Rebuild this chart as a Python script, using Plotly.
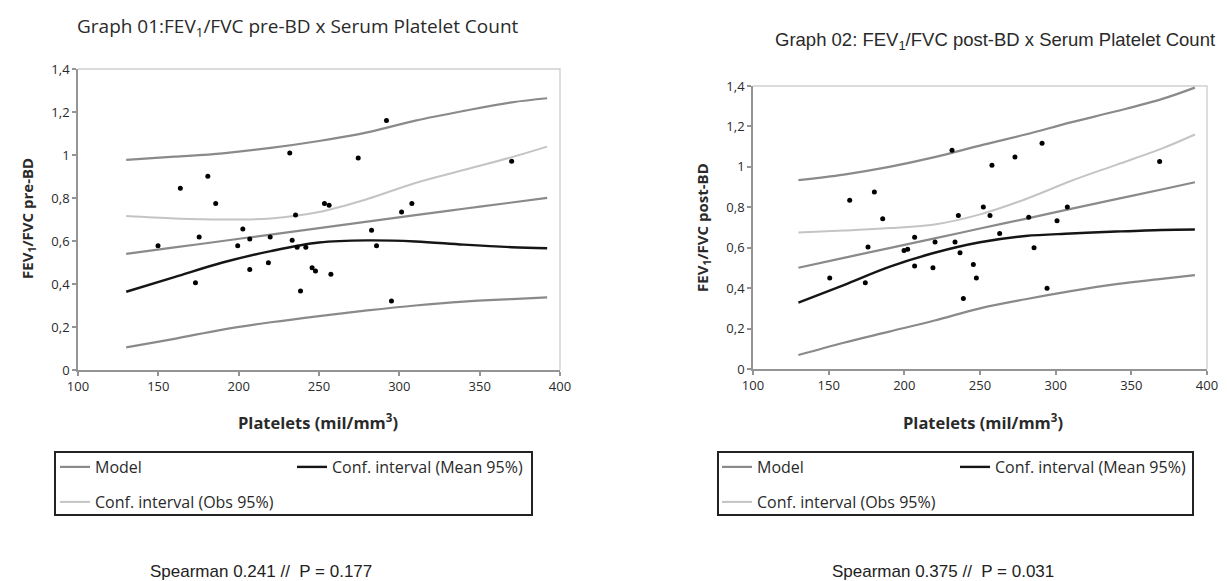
import plotly.graph_objects as go

# The page body keeps an 8px margin, so the figure is sized to fit the window.
PAGE_W, PAGE_H, OFF = 1227, 581, 8
W, H = PAGE_W - OFF, PAGE_H - OFF

# ---------------- data ----------------
# Graph 01 (pre-BD)
pre_x = [149.8, 163.7, 173.1, 175.4, 180.8, 185.7, 199.4, 202.6, 206.9, 206.9, 218.5,
         219.6, 231.8, 233.3, 235.4, 236.4, 238.5, 241.8, 245.7, 247.8, 253.4, 256.3,
         257.4, 274.4, 282.7, 285.8, 292.0, 295.1, 301.4, 307.8, 369.9]
pre_y = [0.578, 0.845, 0.406, 0.619, 0.901, 0.774, 0.578, 0.656, 0.609, 0.468, 0.499,
         0.619, 1.009, 0.603, 0.721, 0.571, 0.367, 0.571, 0.476, 0.460, 0.775, 0.766,
         0.445, 0.986, 0.650, 0.578, 1.160, 0.321, 0.735, 0.774, 0.971]

curve_x = [130, 160, 190, 220, 250, 280, 310, 340, 370, 392]
pre_model = [0.540, 0.570, 0.600, 0.630, 0.660, 0.690, 0.720, 0.750, 0.779, 0.801]
pre_obs_upper = [0.977, 0.992, 1.008, 1.033, 1.065, 1.105, 1.160, 1.205, 1.245, 1.264]
pre_obs_lower = [0.105, 0.145, 0.188, 0.222, 0.251, 0.277, 0.300, 0.318, 0.330, 0.338]
pre_mean_upper = [0.716, 0.705, 0.700, 0.705, 0.735, 0.795, 0.870, 0.930, 0.990, 1.039]
pre_mean_lower = [0.364, 0.432, 0.500, 0.553, 0.593, 0.603, 0.598, 0.583, 0.571, 0.566]

# Graph 02 (post-BD)
post_x = [150.7, 163.9, 174.2, 176.0, 180.2, 185.7, 199.8, 202.2, 206.8, 206.8, 218.9,
          220.3, 231.5, 233.5, 235.7, 236.8, 239.0, 245.6, 247.6, 252.2, 256.6, 257.9,
          263.0, 273.1, 282.2, 285.7, 291.0, 294.3, 300.9, 307.7, 368.7]
post_y = [0.450, 0.835, 0.427, 0.603, 0.876, 0.743, 0.586, 0.593, 0.652, 0.509, 0.501,
          0.628, 1.082, 0.628, 0.759, 0.575, 0.349, 0.517, 0.450, 0.802, 0.759, 1.008,
          0.670, 1.049, 0.751, 0.600, 1.117, 0.400, 0.733, 0.802, 1.026]

post_model = [0.501, 0.550, 0.598, 0.646, 0.695, 0.743, 0.792, 0.840, 0.888, 0.924]
post_obs_upper = [0.934, 0.962, 1.000, 1.048, 1.105, 1.160, 1.220, 1.275, 1.335, 1.392]
post_obs_lower = [0.069, 0.130, 0.185, 0.240, 0.300, 0.345, 0.385, 0.420, 0.446, 0.464]
post_mean_upper = [0.675, 0.685, 0.697, 0.715, 0.765, 0.840, 0.930, 1.010, 1.090, 1.160]
post_mean_lower = [0.328, 0.415, 0.505, 0.575, 0.627, 0.658, 0.670, 0.680, 0.688, 0.690]

x_ticks = [100, 150, 200, 250, 300, 350, 400]
y_ticks = [0, 0.2, 0.4, 0.6, 0.8, 1.0, 1.2, 1.4]
y_tick_text = ["0", "0,2", "0,4", "0,6", "0,8", "1", "1,2", "1,4"]

legend_names = ["Model", "Conf. interval (Mean 95%)", "Conf. interval (Obs 95%)"]
titles = ["Graph 01:FEV<sub>1</sub>/FVC pre-BD x Serum Platelet Count",
          "Graph 02: FEV<sub>1</sub>/FVC post-BD x Serum Platelet Count"]
y_titles = ["<b>FEV<sub>1</sub>/FVC pre-BD</b>", "<b>FEV<sub>1</sub>/FVC post-BD</b>"]
x_title = "<b>Platelets (mil/mm<sup>3</sup>)</b>"
spearman = ["Spearman 0.241 //  P = 0.177", "Spearman 0.375 //  P = 0.031"]

# ---------------- styles ----------------
C_MODEL = "#8a8a8a"
C_OBS = "#8a8a8a"
C_LIGHT = "#c4c4c4"
C_DARK = "#151515"
TXT = "#2a2a2a"
FONT = "Open Sans"


def px(x):
    return (x - OFF) / W


def py(y):
    return 1 - (y - OFF) / H


fig = go.Figure()

panels = [
    dict(xs=pre_x, ys=pre_y, model=pre_model, ou=pre_obs_upper, ol=pre_obs_lower,
         mu=pre_mean_upper, ml=pre_mean_lower, xa="x", ya="y",
         legs=["legend", "legend2", "legend3"]),
    dict(xs=post_x, ys=post_y, model=post_model, ou=post_obs_upper, ol=post_obs_lower,
         mu=post_mean_upper, ml=post_mean_lower, xa="x2", ya="y2",
         legs=["legend4", "legend5", "legend6"]),
]

for p in panels:
    common = dict(xaxis=p["xa"], yaxis=p["ya"], mode="lines", line_shape="spline")
    fig.add_trace(go.Scatter(x=curve_x, y=p["ou"], line=dict(color=C_OBS, width=2.2),
                             showlegend=False, hoverinfo="skip", **common))
    fig.add_trace(go.Scatter(x=curve_x, y=p["ol"], line=dict(color=C_OBS, width=2.2),
                             showlegend=False, hoverinfo="skip", **common))
    fig.add_trace(go.Scatter(x=curve_x, y=p["model"], line=dict(color=C_MODEL, width=2.2),
                             name=legend_names[0], legend=p["legs"][0], **common))
    fig.add_trace(go.Scatter(x=curve_x, y=p["ml"], line=dict(color=C_DARK, width=2.4),
                             name=legend_names[1], legend=p["legs"][1], **common))
    fig.add_trace(go.Scatter(x=curve_x, y=p["mu"], line=dict(color=C_LIGHT, width=2),
                             name=legend_names[2], legend=p["legs"][2], **common))
    fig.add_trace(go.Scatter(x=p["xs"], y=p["ys"], xaxis=p["xa"], yaxis=p["ya"],
                             mode="markers", marker=dict(color="black", size=5),
                             showlegend=False))

axis_common = dict(showgrid=False, zeroline=False, showline=True, linecolor="#949494",
                   linewidth=1.6, mirror=False, ticks="outside", ticklen=4,
                   tickcolor="#949494", tickwidth=1.5,
                   tickfont=dict(family=FONT, size=13, color=TXT))

fig.update_layout(
    width=W, height=H,
    margin=dict(l=0, r=0, t=0, b=0, autoexpand=False),
    paper_bgcolor="white", plot_bgcolor="white",
    xaxis=dict(domain=[px(78), px(560)], range=[100, 400], tickvals=x_ticks,
               anchor="y", **axis_common),
    yaxis=dict(domain=[py(370), py(69)], range=[0, 1.4], tickvals=y_ticks,
               ticktext=y_tick_text, anchor="x", **axis_common),
    xaxis2=dict(domain=[px(753), px(1207)], range=[100, 400], tickvals=x_ticks,
                anchor="y2", **axis_common),
    yaxis2=dict(domain=[py(369), py(86)], range=[0, 1.4], tickvals=y_ticks,
                ticktext=y_tick_text, anchor="x2", **axis_common),
    showlegend=True,
)

# light frame on the top and right of each plot area
for xr, yr in [("x", "y"), ("x2", "y2")]:
    fig.add_shape(type="path", xref=f"{xr} domain", yref=f"{yr} domain",
                  path="M 0 1 L 1 1 L 1 0", line=dict(color="#cfcfcf", width=1.4),
                  layer="below")

leg_font = dict(family=FONT, size=16, color=TXT)
leg_pos = {
    "legend": (55, 467), "legend2": (292, 467), "legend3": (55, 502),
    "legend4": (717, 467), "legend5": (955, 467), "legend6": (717, 502),
}
for name, (lx, ly) in leg_pos.items():
    fig.update_layout({name: dict(x=px(lx), y=py(ly), xanchor="left", yanchor="middle",
                                  bgcolor="rgba(0,0,0,0)", borderwidth=0, font=leg_font,
                                  itemwidth=30)})

# legend frames
for (x0, x1) in [(55, 532), (718, 1193)]:
    fig.add_shape(type="rect", xref="paper", yref="paper", x0=px(x0), x1=px(x1),
                  y0=py(515), y1=py(452), line=dict(color="#222222", width=2))

ann = []
# titles
ann.append(dict(text=titles[0], x=px(298), y=py(27), font=dict(family=FONT, size=19, color=TXT)))
ann.append(dict(text=titles[1], x=px(995), y=py(41), font=dict(family="Liberation Sans", size=18.5, color=TXT)))
# x titles
ann.append(dict(text=x_title, x=px(318), y=py(422), font=dict(family=FONT, size=16.5, color=TXT)))
ann.append(dict(text=x_title, x=px(983), y=py(422), font=dict(family=FONT, size=16.5, color=TXT)))
# y titles
ann.append(dict(text=y_titles[0], x=px(28), y=py(219), textangle=-90,
                font=dict(family=FONT, size=15, color=TXT)))
ann.append(dict(text=y_titles[1], x=px(703), y=py(228), textangle=-90,
                font=dict(family=FONT, size=15, color=TXT)))
# spearman
ann.append(dict(text=spearman[0], x=px(261), y=py(571), font=dict(family="Liberation Sans", size=17, color="#222")))
ann.append(dict(text=spearman[1], x=px(943), y=py(571), font=dict(family="Liberation Sans", size=17, color="#222")))

for a in ann:
    fig.add_annotation(xref="paper", yref="paper", showarrow=False,
                       xanchor="center", yanchor="middle", **a)

fig.write_html("out.html")
